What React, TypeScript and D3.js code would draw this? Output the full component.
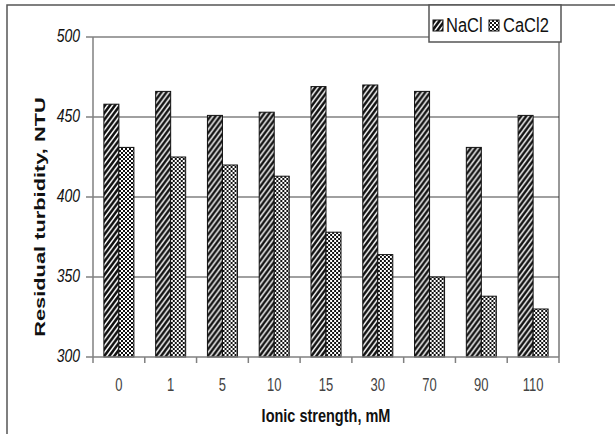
import React from "react";
import * as d3 from "d3";

const categories = ["0", "1", "5", "10", "15", "30", "70", "90", "110"];
const seriesNames = ["NaCl", "CaCl2"];
const naclValues = [458, 466, 451, 453, 469, 470, 466, 431, 451];
const cacl2Values = [431, 425, 420, 413, 378, 364, 350, 338, 330];
const yTicks = [300, 350, 400, 450, 500];

const FONT = "'Liberation Sans', Arial, sans-serif";
const PLOT = { left: 93, right: 559, top: 37, bottom: 357 };

const App = () => {
  const x = d3.scaleBand().domain(categories).range([PLOT.left, PLOT.right]).padding(0);
  const xs = d3
    .scaleBand()
    .domain(seriesNames)
    .range([0, x.bandwidth()])
    .paddingInner(0)
    .paddingOuter(0.725);
  const y = d3.scaleLinear().domain([300, 500]).range([PLOT.bottom, PLOT.top]);

  const rows = categories.map((c, i) => ({ cat: c, values: [naclValues[i], cacl2Values[i]] }));
  const fills = ["url(#hatch)", "url(#checker)"];
  const tickEdges = categories.map((c) => x(c)).concat([PLOT.right]);

  return (
    <svg
      width={615}
      height={434}
      style={{ position: "absolute", left: 0, top: 0, background: "#fff" }}
      fontFamily={FONT}
    >
      <defs>
        <pattern
          id="hatch"
          patternUnits="userSpaceOnUse"
          width={5}
          height={5}
          patternTransform="scale(1,1.35)"
        >
          <rect width={5} height={5} fill="#fff" />
          <path d="M-1,1 l2,-2 M0,5 l5,-5 M4,6 l2,-2" stroke="#111" strokeWidth={2.2} />
        </pattern>
        <pattern id="checker" patternUnits="userSpaceOnUse" width={4} height={4}>
          <rect width={4} height={4} fill="#fff" />
          <rect width={2} height={2} fill="#111" shapeRendering="crispEdges" />
          <rect x={2} y={2} width={2} height={2} fill="#111" shapeRendering="crispEdges" />
        </pattern>
      </defs>

      {/* outer frame */}
      <path d="M7,434 V5 H615" fill="none" stroke="#555" strokeWidth={1.5} />

      {/* gridlines */}
      {yTicks.slice(1).map((t) => (
        <line
          key={t}
          x1={PLOT.left}
          x2={PLOT.right}
          y1={y(t)}
          y2={y(t)}
          stroke="#808080"
          strokeWidth={1.5}
        />
      ))}

      {/* bars */}
      {rows.map((r) => (
        <g key={r.cat} transform={`translate(${x(r.cat)},0)`}>
          {r.values.map((v, j) => (
            <rect
              key={j}
              x={xs(seriesNames[j])}
              y={y(v)}
              width={xs.bandwidth()}
              height={y(300) - y(v)}
              fill={fills[j]}
              stroke="#111"
              strokeWidth={1}
            />
          ))}
        </g>
      ))}

      {/* plot right border */}
      <line x1={PLOT.right} x2={PLOT.right} y1={PLOT.top} y2={PLOT.bottom} stroke="#333" strokeWidth={1} />

      {/* y axis */}
      <line x1={PLOT.left} x2={PLOT.left} y1={PLOT.top} y2={PLOT.bottom} stroke="#808080" strokeWidth={1.5} />
      {yTicks.map((t) => (
        <g key={t}>
          <line x1={PLOT.left - 7} x2={PLOT.left} y1={y(t)} y2={y(t)} stroke="#808080" strokeWidth={1.5} />
          <text
            transform={`translate(80,${y(t) + 5}) scale(1,1.25)`}
            textAnchor="end"
            fontSize={14}
            fontStyle="italic"
            fill="#111"
          >
            {t}
          </text>
        </g>
      ))}

      {/* x axis */}
      <line x1={PLOT.left} x2={PLOT.right} y1={PLOT.bottom} y2={PLOT.bottom} stroke="#808080" strokeWidth={1.5} />
      {tickEdges.map((e, i) => (
        <line key={i} x1={e} x2={e} y1={PLOT.bottom} y2={PLOT.bottom + 6} stroke="#808080" strokeWidth={1.5} />
      ))}
      {categories.map((c) => (
        <text
          key={c}
          transform={`translate(${(x(c) as number) + x.bandwidth() / 2},390.5) scale(1,1.45)`}
          textAnchor="middle"
          fontSize={13}
          fill="#444"
        >
          {c}
        </text>
      ))}

      {/* axis titles */}
      <text
        transform={`translate(326,422) scale(1,1.28)`}
        textAnchor="middle"
        fontSize={14.5}
        fontWeight="bold"
        fill="#111"
      >
        Ionic strength, mM
      </text>
      <text
        transform={`translate(45,217) rotate(-90) scale(1.56,1)`}
        textAnchor="middle"
        fontSize={14}
        fontWeight="bold"
        fill="#111"
      >
        Residual turbidity, NTU
      </text>

      {/* legend */}
      <rect x={429} y={5} width={132} height={37} fill="#fff" stroke="#555" strokeWidth={1.5} />
      <rect x={433} y={20} width={10} height={11} fill="url(#hatch)" stroke="#111" />
      <text transform="translate(446,31.5) scale(1,1.25)" fontSize={16.5} fill="#111">
        NaCl
      </text>
      <rect x={489} y={20} width={10} height={11} fill="url(#checker)" stroke="#111" />
      <text transform="translate(503,31.5) scale(1,1.25)" fontSize={16.5} fill="#111">
        CaCl2
      </text>
    </svg>
  );
};

export default App;
